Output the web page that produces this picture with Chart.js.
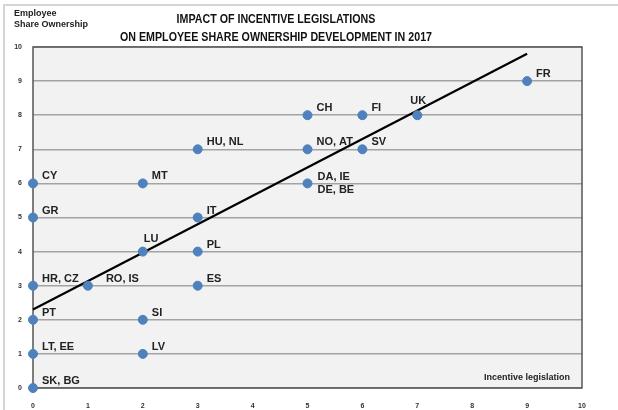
<!DOCTYPE html>
<html>
<head>
<meta charset="utf-8">
<script src="https://cdn.jsdelivr.net/npm/chart.js@4/dist/chart.umd.min.js"></script>
<style>
	html, body { margin: 0; padding: 0; background: #fff; }
	#wrap { position: relative; width: 618px; height: 410px; }
	canvas { display: block; }
</style>
</head>
<body>
<div id="wrap"><canvas id="chart" width="618" height="410"></canvas></div>
<script>
	// Daten
	var countries = ['SK, BG', 'LT, EE', 'PT', 'HR, CZ', 'GR', 'CY', 'RO, IS', 'LU', 'SI', 'LV', 'MT',
		'HU, NL', 'IT', 'PL', 'ES', 'CH', 'NO, AT', 'DA, IE\nDE, BE', 'FI', 'SV', 'UK', 'FR'];
	var legislation = [0, 0, 0, 0, 0, 0, 1, 2, 2, 2, 2, 3, 3, 3, 3, 5, 5, 5, 6, 6, 7, 9];
	var ownership = [0, 1, 2, 3, 5, 6, 3, 4, 2, 1, 6, 7, 5, 4, 3, 8, 7, 6, 8, 7, 8, 9];
	var trendX = [0, 9];
	var trendY = [2.3, 9.8];
	var axisTicks = [0, 1, 2, 3, 4, 5, 6, 7, 8, 9, 10];

	var titleLines = ['IMPACT OF INCENTIVE LEGISLATIONS', 'ON EMPLOYEE SHARE OWNERSHIP DEVELOPMENT IN 2017'];
	var yTitle = ['Employee', 'Share Ownership'];
	var xTitle = 'Incentive legislation';

	var points = legislation.map(function(x, i) { return { x: x, y: ownership[i] }; });
	var trend = trendX.map(function(x, i) { return { x: x, y: trendY[i] }; });

	// Sonderfaelle fuer Beschriftungen
	var labelShift = {
		'RO, IS': [18, -7],
		'LU': [1, -13],
		'UK': [-7, -14],
		'DA, IE\nDE, BE': [10, -6]
	};

	var BOLD = '"Liberation Sans", Arial, sans-serif';

	var decor = {
		id: 'decor',
		beforeDraw: function(chart) {
			var ctx = chart.ctx, a = chart.chartArea;
			ctx.save();
			// aeusserer Rahmen
			ctx.strokeStyle = '#d4d4d4';
			ctx.lineWidth = 2;
			ctx.beginPath();
			ctx.moveTo(4, 410);
			ctx.lineTo(4, 5);
			ctx.lineTo(618, 5);
			ctx.stroke();
			// Plotflaeche
			ctx.fillStyle = '#f2f2f2';
			ctx.fillRect(a.left, a.top, a.right - a.left, a.bottom - a.top);
			ctx.restore();
		},
		beforeDatasetsDraw: function(chart) {
			var ctx = chart.ctx, a = chart.chartArea;
			ctx.save();
			ctx.strokeStyle = '#555';
			ctx.lineWidth = 1.5;
			ctx.strokeRect(a.left, a.top, a.right - a.left, a.bottom - a.top);
			ctx.restore();
		},
		afterDatasetsDraw: function(chart) {
			var ctx = chart.ctx, a = chart.chartArea;
			var meta = chart.getDatasetMeta(0);
			ctx.save();
			ctx.fillStyle = '#222';
			ctx.font = 'bold 11px ' + BOLD;
			ctx.textBaseline = 'middle';
			ctx.textAlign = 'left';
			meta.data.forEach(function(el, i) {
				var s = labelShift[countries[i]] || [9, -7];
				countries[i].split('\n').forEach(function(line, k) {
					ctx.fillText(line, el.x + s[0], el.y + s[1] + k * 13);
				});
			});

			// Titel (schmal gestaucht wie im Original)
			ctx.font = 'bold 13px ' + BOLD;
			ctx.fillStyle = '#111';
			ctx.textAlign = 'center';
			var sx = 312 / ctx.measureText(titleLines[1]).width;
			ctx.save();
			ctx.translate(276, 0);
			ctx.scale(sx, 1);
			ctx.fillText(titleLines[0], 0, 19);
			ctx.fillText(titleLines[1], 0, 37);
			ctx.restore();

			// Achsentitel
			ctx.textAlign = 'left';
			ctx.font = 'bold 9px ' + BOLD;
			ctx.fillStyle = '#222';
			ctx.fillText(yTitle[0], 14, 14);
			ctx.fillText(yTitle[1], 14, 25);
			ctx.textAlign = 'right';
			ctx.fillText(xTitle, a.right - 12, a.bottom - 10);
			ctx.restore();
		}
	};

	var tickFont = { family: BOLD, size: 7, weight: 'bold' };

	new Chart(document.getElementById('chart'), {
		type: 'scatter',
		data: {
			datasets: [{
				data: points,
				backgroundColor: '#4f81bd',
				borderColor: '#4f81bd',
				pointRadius: 4.5,
				pointHoverRadius: 4.5,
				clip: false,
				order: 1
			}, {
				type: 'line',
				data: trend,
				borderColor: '#000',
				borderWidth: 2.2,
				pointRadius: 0,
				fill: false,
				clip: false,
				order: 2
			}]
		},
		options: {
			responsive: false,
			animation: false,
			layout: { padding: { left: 0, right: 36, top: 47, bottom: 0 } },
			plugins: { legend: { display: false }, tooltip: { enabled: false } },
			scales: {
				x: {
					type: 'linear',
					min: 0, max: 10,
					afterFit: function(s) { s.height = 22; },
					afterBuildTicks: function(s) { s.ticks = axisTicks.map(function(v) { return { value: v }; }); },
					grid: { display: false },
					border: { display: false },
					ticks: { font: tickFont, color: '#333', padding: 6 }
				},
				y: {
					type: 'linear',
					min: 0, max: 10,
					afterFit: function(s) { s.width = 33; },
					afterBuildTicks: function(s) { s.ticks = axisTicks.map(function(v) { return { value: v }; }); },
					grid: { color: '#a3a3a3', lineWidth: 1.5, drawTicks: false },
					border: { display: false },
					ticks: { font: tickFont, color: '#333', padding: 11 }
				}
			}
		},
		plugins: [decor]
	});
</script>
</body>
</html>
